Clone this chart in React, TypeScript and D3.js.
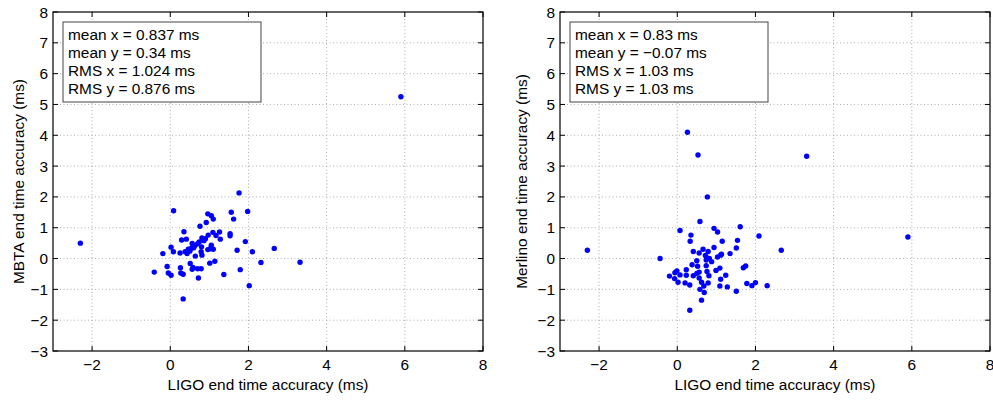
import React from "react";
import * as d3 from "d3";

const xTicks = [-2, 0, 2, 4, 6, 8];
const yTicks = [-3, -2, -1, 0, 1, 2, 3, 4, 5, 6, 7, 8];

const mbtaX = [5.9, -2.3, 1.76, 0.085, 0.96, 1.05, 1.10, 1.56, 1.98, 1.62, 0.92, 0.76, 0.35, 0.29, 0.41, 0.97, 1.09, 1.17, 1.26, 1.28, 1.53, 1.53, 1.92, 0.81, 0.90, 0.74, 0.56, 0.02, 0.08, -0.19, 0.25, 0.38, 0.43, 0.50, 0.53, 0.60, 0.63, 0.80, 0.79, 0.81, 0.96, 1.05, 1.10, 1.71, 2.10, 2.66, 0.64, -0.08, 0.26, 0.51, 0.56, 0.58, 0.70, 0.79, 1.01, 1.14, -0.41, -0.05, 0.02, 0.27, 0.33, 0.72, 1.37, 1.79, 2.32, 3.32, 2.02, 0.33, 0.46, 0.70, 0.86, 0.58, 1.02];
const mbtaY = [5.25, 0.5, 2.13, 1.55, 1.45, 1.39, 1.28, 1.50, 1.53, 1.28, 1.17, 1.05, 0.87, 0.60, 0.63, 0.76, 0.85, 0.75, 0.86, 0.63, 0.81, 0.74, 0.55, 0.67, 0.64, 0.54, 0.49, 0.37, 0.22, 0.16, 0.18, 0.22, 0.16, 0.24, 0.33, 0.35, 0.42, 0.38, 0.22, 0.11, 0.29, 0.43, 0.30, 0.27, 0.22, 0.33, 0.08, -0.26, -0.30, -0.16, -0.35, -0.29, -0.33, -0.33, -0.15, -0.09, -0.44, -0.47, -0.54, -0.47, -0.51, -0.63, -0.52, -0.36, -0.13, -0.12, -0.88, -1.31, 0.30, 0.48, 0.58, 0.40, 0.32];

const merlinoX = [5.9, -2.3, 0.26, 0.53, 3.31, 0.77, 0.58, 0.07, 0.94, 1.03, 1.61, 0.35, 2.09, 0.33, 1.15, 1.54, 1.51, 2.66, -0.44, 0.41, 0.56, 0.79, 0.94, 1.13, 1.35, 0.72, 0.76, 0.74, 0.88, 1.03, 1.11, 0.50, 0.38, 0.52, 0.74, 0.23, -0.06, -0.01, 0.07, -0.20, -0.07, 0.02, 0.23, 0.41, 0.50, 0.56, 0.76, 0.81, 0.56, 0.62, 0.68, 0.79, 0.58, 0.69, 0.62, 0.32, 0.20, 0.32, 0.99, 1.09, 1.24, 1.11, 1.09, 1.28, 1.51, 1.69, 1.75, 1.78, 1.91, 2.0, 2.30, 0.82, 0.66];
const merlinoY = [0.7, 0.27, 4.10, 3.36, 3.32, 2.0, 1.20, 0.91, 0.98, 0.86, 1.03, 0.76, 0.73, 0.56, 0.56, 0.59, 0.34, 0.27, 0.0, 0.23, 0.18, 0.23, 0.36, 0.14, 0.16, 0.10, 0.02, -0.05, -0.10, 0.05, 0.11, -0.07, -0.20, -0.25, -0.23, -0.36, -0.46, -0.40, -0.53, -0.57, -0.65, -0.77, -0.54, -0.56, -0.48, -0.44, -0.42, -0.56, -0.63, -0.77, -0.89, -0.79, -1.0, -1.1, -1.35, -1.68, -0.79, -0.86, -0.39, -0.31, -0.54, -0.67, -0.89, -0.92, -1.06, -0.30, -0.24, -0.81, -0.88, -0.78, -0.88, 0.0, 0.30];

const mbtaStats = ["mean x = 0.837 ms", "mean y = 0.34 ms", "RMS x = 1.024 ms", "RMS y = 0.876 ms"];
const merlinoStats = ["mean x = 0.83 ms", "mean y = \u22120.07 ms", "RMS x = 1.03 ms", "RMS y = 1.03 ms"];

const FONT = "'Liberation Sans', Arial, Helvetica, sans-serif";
const FS = 15.4;
const fmt = (v: number) => (v < 0 ? "\u2212" + Math.abs(v) : String(v));

type PanelProps = {
  left: number;
  xs: number[];
  ys: number[];
  stats: string[];
  ylabel: string;
  ylabelX: number;
};

function Panel({ left, xs, ys, stats, ylabel, ylabelX }: PanelProps) {
  const top = 12, bottom = 351, width = 430;
  const x = d3.scaleLinear().domain([-3, 8]).range([left, left + width]);
  const y = d3.scaleLinear().domain([-3, 8]).range([bottom, top]);
  const tl = 5;
  return (
    <g>
      {xTicks.filter(t => t > -3 && t < 8).map(t => (
        <line key={"gx" + t} x1={x(t)} x2={x(t)} y1={top} y2={bottom} stroke="#999" strokeWidth={0.8} strokeDasharray="1,2.5" />
      ))}
      {yTicks.filter(t => t > -3 && t < 8).map(t => (
        <line key={"gy" + t} x1={left} x2={left + width} y1={y(t)} y2={y(t)} stroke="#999" strokeWidth={0.8} strokeDasharray="1,2.5" />
      ))}
      {xTicks.map(t => (
        <g key={"tx" + t}>
          <line x1={x(t)} x2={x(t)} y1={bottom} y2={bottom - tl} stroke="#000" />
          <line x1={x(t)} x2={x(t)} y1={top} y2={top + tl} stroke="#000" />
          <text x={x(t)} y={bottom + 19} textAnchor="middle" fontSize={FS} fontFamily={FONT}>{fmt(t)}</text>
        </g>
      ))}
      {yTicks.map(t => (
        <g key={"ty" + t}>
          <line x1={left} x2={left + tl} y1={y(t)} y2={y(t)} stroke="#000" />
          <line x1={left + width} x2={left + width - tl} y1={y(t)} y2={y(t)} stroke="#000" />
          <text x={left - 5} y={y(t) + 5.5} textAnchor="end" fontSize={FS} fontFamily={FONT}>{fmt(t)}</text>
        </g>
      ))}
      {xs.map((v, i) => (
        <circle key={"p" + i} cx={x(v)} cy={y(ys[i])} r={2.7} fill="#0000ff" />
      ))}
      <rect x={left} y={top} width={width} height={bottom - top} fill="none" stroke="#000" strokeWidth={1.2} />
      <rect x={left + 10} y={22} width={198} height={80} fill="#fff" stroke="#444" strokeWidth={1} />
      {stats.map((s, i) => (
        <text key={"s" + i} x={left + 15} y={39.5 + i * 18} fontSize={FS} fontFamily={FONT}>{s}</text>
      ))}
      <text x={left + width / 2} y={390} textAnchor="middle" fontSize={FS} fontFamily={FONT}>LIGO end time accuracy (ms)</text>
      <text transform={`translate(${ylabelX},${(top + bottom) / 2}) rotate(-90)`} textAnchor="middle" fontSize={FS} fontFamily={FONT}>{ylabel}</text>
    </g>
  );
}

export default function App() {
  return (
    <svg width={993} height={401} style={{ position: "absolute", left: 0, top: 0, background: "#fff" }}>
      <rect width={993} height={401} fill="#fff" />
      <Panel left={53} xs={mbtaX} ys={mbtaY} stats={mbtaStats} ylabel="MBTA end time accuracy (ms)" ylabelX={24} />
      <Panel left={560} xs={merlinoX} ys={merlinoY} stats={merlinoStats} ylabel="Merlino end time accuracy (ms)" ylabelX={527} />
    </svg>
  );
}
